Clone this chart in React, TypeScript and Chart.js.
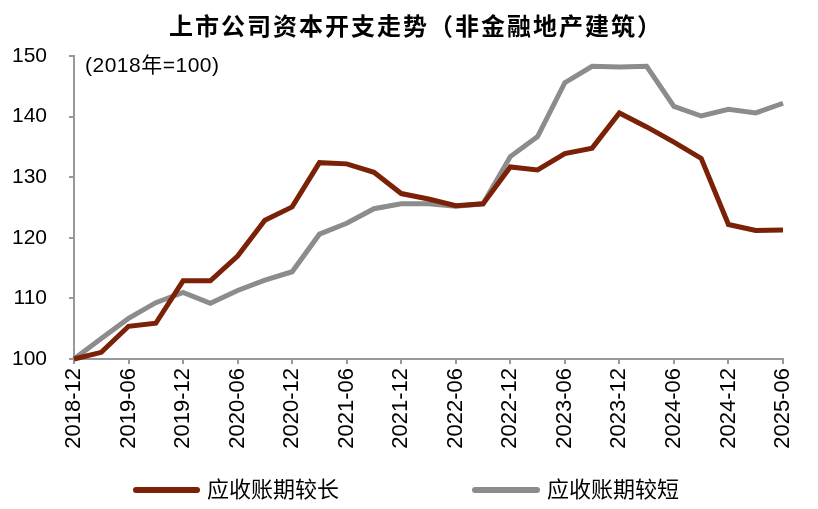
import React, { useEffect, useRef } from "react";
import { Chart, registerables } from "chart.js";

Chart.register(...registerables);

const TITLE = "上市公司资本开支走势（非金融地产建筑）";
const NOTE = "(2018年=100)";
const SERIES_NAMES = ["应收账期较长", "应收账期较短"];
const COLORS = ["#7a2108", "#8c8c8c"];

const categories = [
  "2018-12", "2019-03", "2019-06", "2019-09", "2019-12",
  "2020-03", "2020-06", "2020-09", "2020-12",
  "2021-03", "2021-06", "2021-09", "2021-12",
  "2022-03", "2022-06", "2022-09", "2022-12",
  "2023-03", "2023-06", "2023-09", "2023-12",
  "2024-03", "2024-06", "2024-09", "2024-12",
  "2025-03", "2025-06",
];

const longTerm = [
  100, 101.1, 105.4, 105.9, 112.9, 112.9, 117.0, 122.9, 125.1, 132.4, 132.2,
  130.8, 127.3, 126.4, 125.3, 125.6, 131.7, 131.2, 133.9, 134.8, 140.6, 138.3,
  135.8, 133.1, 122.2, 121.2, 121.3,
];

const shortTerm = [
  100, 103.4, 106.7, 109.3, 111.0, 109.2, 111.3, 113.0, 114.4, 120.6, 122.4,
  124.8, 125.6, 125.6, 125.2, 125.6, 133.4, 136.7, 145.6, 148.3, 148.2, 148.3,
  141.7, 140.1, 141.2, 140.6, 142.2,
];

const yTicks = [100, 110, 120, 130, 140, 150];

const FONT = "'Liberation Sans', Arial, 'Noto Sans CJK SC', sans-serif";
const CJK = "'Liberation Sans', 'Noto Sans CJK SC', sans-serif";

const decorPlugin = {
  id: "decor",
  afterDraw(chart: any) {
    const ctx = chart.ctx as CanvasRenderingContext2D;
    const area = chart.chartArea;
    ctx.save();
    // title
    ctx.fillStyle = "#000";
    ctx.font = `bold 24px ${CJK}`;
    (ctx as any).letterSpacing = "2px";
    ctx.textAlign = "center";
    ctx.textBaseline = "middle";
    ctx.fillText(TITLE, 416, 28);
    // note
    (ctx as any).letterSpacing = "0.5px";
    ctx.font = `21px ${CJK}`;
    ctx.textAlign = "left";
    ctx.fillText(NOTE, area.left + 11, 66);
    (ctx as any).letterSpacing = "0px";
    // legend
    const items = [
      { x0: 133, x1: 200 },
      { x0: 472, x1: 540 },
    ];
    chart.data.datasets.forEach((ds: any, i: number) => {
      const it = items[i];
      const y = 490;
      ctx.strokeStyle = ds.borderColor;
      ctx.lineWidth = 6;
      ctx.lineCap = "round";
      ctx.beginPath();
      ctx.moveTo(it.x0 + 3, y);
      ctx.lineTo(it.x1 - 3, y);
      ctx.stroke();
      ctx.fillStyle = "#000";
      ctx.font = `22px ${CJK}`;
      ctx.textAlign = "left";
      ctx.textBaseline = "middle";
      ctx.fillText(ds.label, it.x1 + 7, y + 1);
    });
    ctx.restore();
  },
};

export default function App() {
  const ref = useRef<HTMLCanvasElement | null>(null);

  useEffect(() => {
    document.body.style.margin = "0";
    const canvas = ref.current;
    if (!canvas) return;
    const chart = new Chart(canvas, {
      type: "line",
      data: {
        labels: categories,
        datasets: [
          {
            label: SERIES_NAMES[0],
            data: longTerm,
            borderColor: COLORS[0],
            backgroundColor: COLORS[0],
            borderWidth: 5,
            pointRadius: 0,
            tension: 0,
            clip: false as any,
          },
          {
            label: SERIES_NAMES[1],
            data: shortTerm,
            borderColor: COLORS[1],
            backgroundColor: COLORS[1],
            borderWidth: 5,
            pointRadius: 0,
            tension: 0,
            clip: false as any,
          },
        ],
      },
      options: {
        animation: false,
        responsive: true,
        maintainAspectRatio: false,
        layout: { padding: { top: 56, left: 0, right: 35, bottom: 0 } },
        plugins: {
          legend: { display: false },
          title: { display: false },
          tooltip: { enabled: false },
        },
        scales: {
          x: {
            type: "category",
            offset: false,
            afterFit: (s: any) => {
              s.height = 150;
            },
            grid: {
              display: true,
              drawOnChartArea: false,
              drawTicks: true,
              tickLength: 5,
              color: "#999",
              lineWidth: 2,
            },
            border: { display: true, color: "#999", width: 2 },
            ticks: {
              autoSkip: false,
              maxRotation: 90,
              minRotation: 90,
              padding: 4,
              color: "#000",
              font: { family: FONT, size: 22 },
              callback: (_v: any, i: number) =>
                i % 2 === 0 ? categories[i] : null,
            },
          },
          y: {
            min: 100,
            max: 150,
            afterFit: (s: any) => {
              s.width = 74;
            },
            afterBuildTicks: (s: any) => {
              s.ticks = yTicks.map((v) => ({ value: v }));
            },
            grid: {
              display: true,
              drawOnChartArea: false,
              drawTicks: true,
              tickLength: 5,
              color: "#999",
              lineWidth: 2,
            },
            border: { display: true, color: "#999", width: 2 },
            ticks: {
              padding: 22,
              color: "#000",
              font: { family: FONT, size: 21 },
            },
          },
        },
      },
      plugins: [decorPlugin],
    });
    return () => chart.destroy();
  }, []);

  return (
    <div style={{ width: 818, height: 509, position: "relative" }}>
      <canvas ref={ref} />
    </div>
  );
}
